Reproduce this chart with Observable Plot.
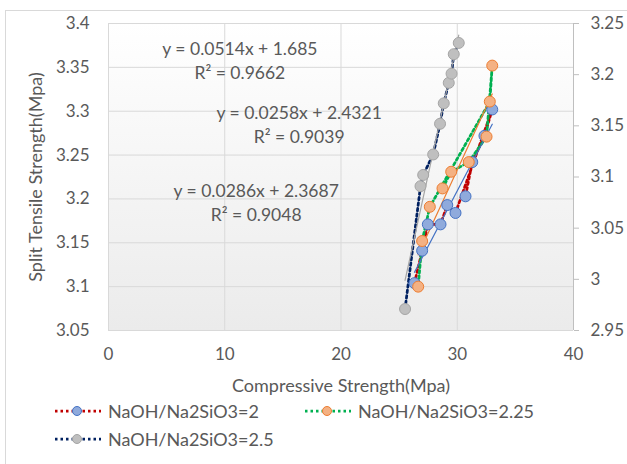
<!DOCTYPE html>
<html><head><meta charset="utf-8">
<script src="https://cdn.jsdelivr.net/npm/d3@7"></script>
<script src="https://cdn.jsdelivr.net/npm/@observablehq/plot@0.6"></script>
<style>
body{margin:0;background:#fff;font-family:Lato,sans-serif;}
#wrap{position:relative;width:627px;height:464px;overflow:hidden;background:#fff;}
#border{position:absolute;left:5px;top:10px;width:700px;height:600px;border-left:1px solid #d9d9d9;border-top:1px solid #d9d9d9;}
#chart{position:absolute;left:0;top:0;}
.leg{position:absolute;display:flex;align-items:center;font-size:18px;color:#595959;white-space:nowrap;}
.leg svg{margin-right:7px;}
</style></head><body>
<div id="wrap"><div id="border"></div><div id="chart"></div><div id="legend"></div></div>
<script>
// ---- data ----
const seriesNames = ["NaOH/Na2SiO3=2", "NaOH/Na2SiO3=2.25", "NaOH/Na2SiO3=2.5"];
const s1X = [26.32, 26.98, 27.47, 28.56, 29.14, 29.85, 33.01, 32.34, 31.29, 30.71];
const s1Y = [3.104, 3.141, 3.171, 3.171, 3.193, 3.184, 3.302, 3.272, 3.242, 3.203];
const s2X = [28.73, 29.48, 30.99, 32.52, 33.01, 32.80, 27.64, 26.98, 26.64];
const s2Y = [3.212, 3.231, 3.242, 3.271, 3.352, 3.311, 3.191, 3.152, 3.100];
const s3X = [25.51, 26.84, 27.07, 27.93, 28.52, 28.84, 29.27, 29.51, 29.70, 30.13];
const s3Y = [2.971, 3.091, 3.102, 3.122, 3.152, 3.172, 3.192, 3.201, 3.220, 3.231]; // secondary axis
const trendEq = ["y = 0.0286x + 2.3687\nR² = 0.9048", "y = 0.0258x + 2.4321\nR² = 0.9039", "y = 0.0514x + 1.685\nR² = 0.9662"];
const xTicks = [0, 10, 20, 30, 40];
const yLeftTicks = [3.05, 3.1, 3.15, 3.2, 3.25, 3.3, 3.35, 3.4];
const yRightTicks = [2.95, 3, 3.05, 3.1, 3.15, 3.2, 3.25];
const xTitle = "Compressive Strength(Mpa)";
const yTitle = "Split Tensile Strength(Mpa)";

// ---- styles ----
const lineColors = ["#c00000", "#00b050", "#002060"];
const dotFill = ["#8faadc", "#f4b183", "#bfbfbf"];
const dotStroke = ["#4472c4", "#ed7d31", "#a5a5a5"];
const textColor = "#595959";

// secondary axis mapped onto primary scale
const L0 = 3.05, L1 = 3.4, R0 = 2.95, R1 = 3.25;
const toLeft = v => L0 + (v - R0) * (L1 - L0) / (R1 - R0);
const toRight = v => R0 + (v - L0) * (R1 - R0) / (L1 - L0);

const rows = [
  s1X.map((x, i) => ({x, y: s1Y[i]})),
  s2X.map((x, i) => ({x, y: s2Y[i]})),
  s3X.map((x, i) => ({x, y: toLeft(s3Y[i])}))
];

const fmt = d => String(+(+d).toFixed(2));
const tickFont = {fontSize: 17, fill: textColor};
const font = {fontSize: 17.5, fill: textColor};
const titleFont = {fontSize: 18, fill: textColor};

const marks = [
  Plot.frame({fill: "url(#plotBg)", stroke: null}),
  Plot.gridY(yLeftTicks, {stroke: "#d9d9d9", strokeOpacity: 1}),
  Plot.gridX(xTicks, {stroke: "#d9d9d9", strokeOpacity: 1}),
  Plot.ruleX([xTicks[xTicks.length - 1]], {stroke: "#bfbfbf"}),
  Plot.axisY(yLeftTicks, {anchor: "left", tickSize: 0, tickPadding: 19, tickFormat: fmt, label: null, ...tickFont}),
  Plot.axisY(yRightTicks.map(toLeft), {anchor: "right", tickSize: 5, tickPadding: 12, stroke: "#bfbfbf", tickFormat: d => fmt(toRight(d)), label: null, ...tickFont}),
  Plot.axisX(xTicks, {anchor: "bottom", tickSize: 0, tickPadding: 17, tickFormat: fmt, label: null, ...tickFont}),
  Plot.text([yTitle], {frameAnchor: "left", dx: -72, rotate: -90, textAnchor: "middle", lineAnchor: "middle", ...titleFont}),
  Plot.text([xTitle], {frameAnchor: "bottom", dy: 56, textAnchor: "middle", lineAnchor: "middle", ...titleFont}),
];
// dotted series lines
rows.forEach((r, k) => marks.push(Plot.line(r, {x: "x", y: "y", stroke: lineColors[k], strokeWidth: 2.75, strokeDasharray: "2.5 3"})));
// linear trendlines
rows.forEach((r, k) => marks.push(Plot.linearRegressionY(r, {x: "x", y: "y", stroke: dotStroke[k], strokeWidth: 1.2, ci: 0})));
// markers
rows.forEach((r, k) => marks.push(Plot.dot(r, {x: "x", y: "y", r: 5.5, fill: dotFill[k], stroke: dotStroke[k], strokeWidth: 1})));
// trendline equations (Excel label placement)
const eqPos = [[12.7, 3.197], [16.4, 3.286], [11.3, 3.359]];
trendEq.forEach((t, k) => marks.push(Plot.text([t], {x: () => eqPos[k][0], y: () => eqPos[k][1], lineHeight: 1.35, ...font})));

const chart = Plot.plot({
  width: 627, height: 400,
  marginLeft: 108, marginRight: 54, marginTop: 23, marginBottom: 70,
  style: {fontFamily: "Lato, sans-serif", fontSize: "17px", color: textColor, background: "transparent", overflow: "visible"},
  x: {domain: [0, 40]},
  y: {domain: [L0, L1]},
  marks
});
const defs = d3.select(chart).insert("defs", ":first-child");
const g = defs.append("linearGradient").attr("id", "plotBg").attr("x1", 0).attr("y1", 0).attr("x2", 0).attr("y2", 1);
g.append("stop").attr("offset", "0%").attr("stop-color", "#ffffff");
g.append("stop").attr("offset", "100%").attr("stop-color", "#ebebeb");
document.getElementById("chart").appendChild(chart);

// legend
const legPos = [[55, 411], [305, 411], [55, 439]];
const legend = document.getElementById("legend");
seriesNames.forEach((name, k) => {
  const div = document.createElement("div");
  div.className = "leg";
  div.style.left = legPos[k][0] + "px";
  div.style.top = (legPos[k][1] - 11) + "px";
  div.style.height = "22px";
  div.innerHTML = `<svg width="46" height="14"><line x1="0" y1="7" x2="46" y2="7" stroke="${lineColors[k]}" stroke-width="2.75" stroke-dasharray="2.5 3"/><circle cx="22" cy="7" r="4.5" fill="${dotFill[k]}" stroke="${dotStroke[k]}"/></svg><span>${name}</span>`;
  legend.appendChild(div);
});
</script>
</body></html>
